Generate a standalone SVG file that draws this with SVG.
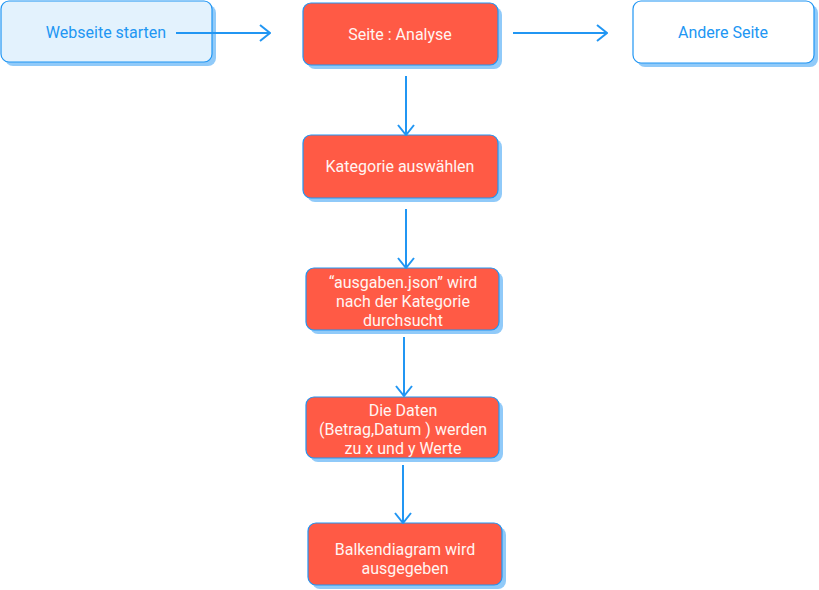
<svg xmlns="http://www.w3.org/2000/svg" width="819" height="590" viewBox="0 0 819 590">
<defs>
<style>
.sh{fill:#90caf9;}
.red{fill:#ff5a45;stroke:#2196f3;stroke-width:1.2;}
.blue{fill:#e3f2fd;stroke:#2196f3;stroke-width:1.2;}
.white{fill:#ffffff;stroke:#2196f3;stroke-width:1.2;}
text{font-family:Roboto,"Liberation Sans",sans-serif;font-size:16px;text-anchor:middle;dominant-baseline:central;}
.tw{fill:#fff5f2;}
.tb{fill:#2196f3;}
.c{fill:none;stroke:#2196f3;stroke-width:2;}
</style>
<marker id="ah" viewBox="0 0 12 18" refX="11" refY="9" markerWidth="12" markerHeight="18" markerUnits="userSpaceOnUse" orient="auto">
<path d="M1,1 L11,9 L1,17" fill="none" stroke="#2196f3" stroke-width="2"/>
</marker>
</defs>
<rect width="819" height="590" fill="#ffffff"/>
<g id="n1">
<rect class="sh" x="5" y="5" width="211" height="61" rx="8"/>
<rect class="blue" x="1" y="1" width="211" height="61" rx="8"/>
<text class="tb" x="106" y="32">Webseite starten</text>
</g>
<g id="n2">
<rect class="sh" x="307" y="7" width="195" height="62" rx="8"/>
<rect class="red" x="303" y="3" width="195" height="62" rx="8"/>
<text class="tw" x="400" y="34">Seite : Analyse</text>
</g>
<g id="n3">
<rect class="sh" x="637" y="5" width="181" height="62" rx="8"/>
<rect class="white" x="633" y="1" width="181" height="62" rx="8"/>
<text class="tb" x="723" y="32">Andere Seite</text>
</g>
<g id="n4">
<rect class="sh" x="307" y="139" width="195" height="63" rx="8"/>
<rect class="red" x="303" y="135" width="195" height="63" rx="8"/>
<text class="tw" x="400" y="166">Kategorie auswählen</text>
</g>
<g id="n5">
<rect class="sh" x="310" y="272" width="193" height="62" rx="8"/>
<rect class="red" x="306" y="268" width="193" height="62" rx="8"/>
<text class="tw" x="403" y="282">“ausgaben.json” wird</text>
<text class="tw" x="403" y="301">nach der Kategorie</text>
<text class="tw" x="403" y="320">durchsucht</text>
</g>
<g id="n6">
<rect class="sh" x="310" y="401" width="193" height="61" rx="8"/>
<rect class="red" x="306" y="397" width="193" height="61" rx="8"/>
<text class="tw" x="403" y="410">Die Daten</text>
<text class="tw" x="403" y="429">(Betrag,Datum ) werden</text>
<text class="tw" x="403" y="448">zu x und y Werte</text>
</g>
<g id="n7">
<rect class="sh" x="312" y="527" width="194" height="62" rx="8"/>
<rect class="red" x="308" y="523" width="194" height="62" rx="8"/>
<text class="tw" x="405" y="549">Balkendiagram wird</text>
<text class="tw" x="405" y="568">ausgegeben</text>
</g>
<g id="connectors">
<line class="c" x1="176" y1="33" x2="270" y2="33" marker-end="url(#ah)"/>
<line class="c" x1="513" y1="33" x2="607" y2="33" marker-end="url(#ah)"/>
<line class="c" x1="406" y1="76" x2="406" y2="135" marker-end="url(#ah)"/>
<line class="c" x1="406" y1="209" x2="406" y2="268" marker-end="url(#ah)"/>
<line class="c" x1="404" y1="337" x2="404" y2="396" marker-end="url(#ah)"/>
<line class="c" x1="403" y1="465" x2="403" y2="523" marker-end="url(#ah)"/>
</g>
</svg>
